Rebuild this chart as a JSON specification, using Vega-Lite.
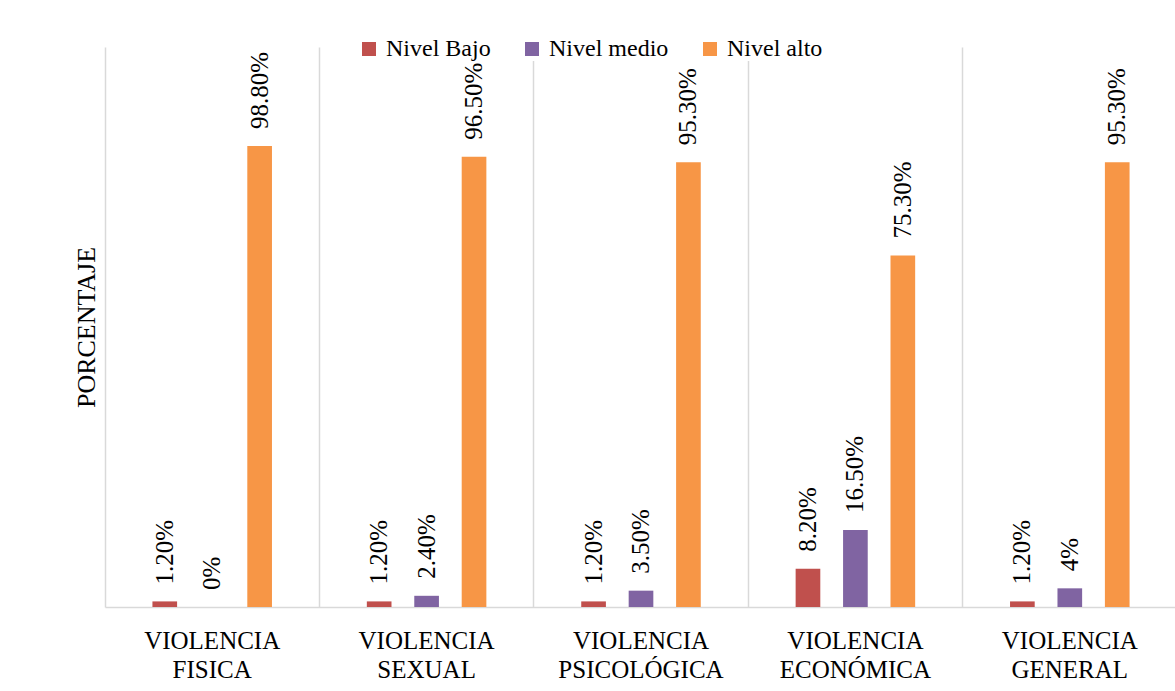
{
  "$schema": "https://vega.github.io/schema/vega-lite/v6.json",
  "width": 1072,
  "height": 560,
  "autosize": {"type": "none"},
  "padding": {"left": 105, "top": 47, "right": 0, "bottom": 84},
  "background": "white",
  "config": {
    "view": {"stroke": null},
    "font": "Liberation Serif",
    "text": {"font": "Liberation Serif"},
    "legend": {"labelFont": "Liberation Serif"},
    "axis": {"labelFont": "Liberation Serif", "titleFont": "Liberation Serif"}
  },
  "data": {
    "values": [
      {"categoria": "VIOLENCIA FISICA", "nivel": "Nivel Bajo", "valor": 1.2, "etiqueta": "1.20%"},
      {"categoria": "VIOLENCIA FISICA", "nivel": "Nivel medio", "valor": 0, "etiqueta": "0%"},
      {"categoria": "VIOLENCIA FISICA", "nivel": "Nivel alto", "valor": 98.8, "etiqueta": "98.80%"},
      {"categoria": "VIOLENCIA SEXUAL", "nivel": "Nivel Bajo", "valor": 1.2, "etiqueta": "1.20%"},
      {"categoria": "VIOLENCIA SEXUAL", "nivel": "Nivel medio", "valor": 2.4, "etiqueta": "2.40%"},
      {"categoria": "VIOLENCIA SEXUAL", "nivel": "Nivel alto", "valor": 96.5, "etiqueta": "96.50%"},
      {"categoria": "VIOLENCIA PSICOLÓGICA", "nivel": "Nivel Bajo", "valor": 1.2, "etiqueta": "1.20%"},
      {"categoria": "VIOLENCIA PSICOLÓGICA", "nivel": "Nivel medio", "valor": 3.5, "etiqueta": "3.50%"},
      {"categoria": "VIOLENCIA PSICOLÓGICA", "nivel": "Nivel alto", "valor": 95.3, "etiqueta": "95.30%"},
      {"categoria": "VIOLENCIA ECONÓMICA", "nivel": "Nivel Bajo", "valor": 8.2, "etiqueta": "8.20%"},
      {"categoria": "VIOLENCIA ECONÓMICA", "nivel": "Nivel medio", "valor": 16.5, "etiqueta": "16.50%"},
      {"categoria": "VIOLENCIA ECONÓMICA", "nivel": "Nivel alto", "valor": 75.3, "etiqueta": "75.30%"},
      {"categoria": "VIOLENCIA GENERAL", "nivel": "Nivel Bajo", "valor": 1.2, "etiqueta": "1.20%"},
      {"categoria": "VIOLENCIA GENERAL", "nivel": "Nivel medio", "valor": 4, "etiqueta": "4%"},
      {"categoria": "VIOLENCIA GENERAL", "nivel": "Nivel alto", "valor": 95.3, "etiqueta": "95.30%"}
    ]
  },
  "encoding": {
    "x": {
      "field": "categoria",
      "type": "nominal",
      "sort": null,
      "scale": {"paddingInner": 0, "paddingOuter": 0},
      "axis": {
        "title": null,
        "labelAngle": 0,
        "labelExpr": "split(datum.label, ' ')",
        "labelFont": "Liberation Serif",
        "labelFontSize": 25,
        "labelColor": "black",
        "labelLineHeight": 29,
        "labelPadding": 21,
        "labelBaseline": "top",
        "ticks": false,
        "domainColor": "#d9d9d9",
        "domainWidth": 1.5,
        "grid": true,
        "gridColor": "#d9d9d9",
        "gridWidth": 1.5,
        "bandPosition": 0
      }
    },
    "xOffset": {
      "field": "nivel",
      "type": "nominal",
      "sort": ["Nivel Bajo", "Nivel medio", "Nivel alto"],
      "scale": {"paddingInner": 0.48, "paddingOuter": 1.156}
    },
    "y": {
      "field": "valor",
      "type": "quantitative",
      "scale": {"domain": [0, 120], "nice": false},
      "axis": {
        "title": "PORCENTAJE",
        "titleFont": "Liberation Serif",
        "titleFontSize": 26,
        "titleFontWeight": "normal",
        "titleColor": "black",
        "titlePadding": 6,
        "labels": false,
        "ticks": false,
        "domain": false,
        "grid": false
      }
    }
  },
  "layer": [
    {
      "mark": {"type": "bar"},
      "encoding": {
        "color": {
          "field": "nivel",
          "type": "nominal",
          "sort": ["Nivel Bajo", "Nivel medio", "Nivel alto"],
          "scale": {
            "domain": ["Nivel Bajo", "Nivel medio", "Nivel alto"],
            "range": ["#C0504D", "#8064A2", "#F79646"]
          },
          "legend": {
            "orient": "none",
            "direction": "horizontal",
            "legendX": 252,
            "legendY": -10,
            "title": null,
            "symbolType": "square",
            "symbolSize": 196,
            "symbolStrokeWidth": 0,
            "labelFont": "Liberation Serif",
            "labelFontSize": 24,
            "labelColor": "black",
            "labelOffset": 5,
            "columnPadding": 29,
            "fillColor": "white",
            "padding": 0
          }
        }
      }
    },
    {
      "mark": {
        "type": "text",
        "angle": 270,
        "align": "left",
        "baseline": "middle",
        "dx": 17,
        "font": "Liberation Serif",
        "fontSize": 25,
        "color": "black"
      },
      "encoding": {
        "text": {"field": "etiqueta", "type": "nominal"}
      }
    }
  ]
}
